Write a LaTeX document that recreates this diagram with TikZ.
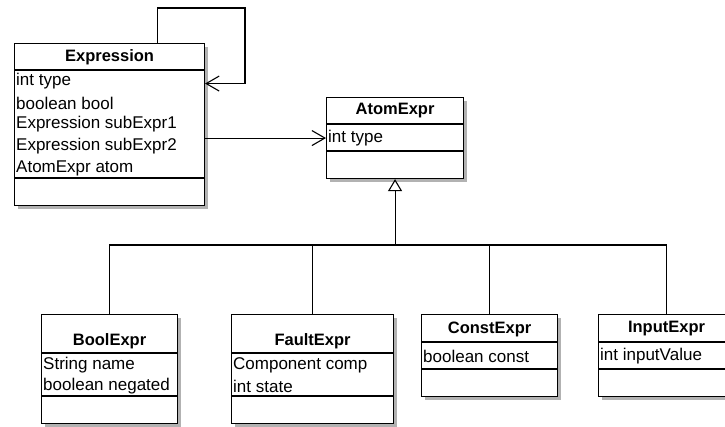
\documentclass[tikz,border=0pt]{standalone}
\usepackage{fontspec}
\setmainfont{Liberation Sans}
\usetikzlibrary{arrows.meta,positioning,shadows}
\tikzset{
  cls/.style={rectangle, draw, line width=1.1pt, fill=white, anchor=north west, inner sep=0pt,
    drop shadow={shadow xshift=3.5pt, shadow yshift=-3.5pt, fill=black!30, opacity=1}},
  ctitle/.style={font=\fontsize{16.5}{20}\selectfont\bfseries, inner sep=0pt},
  cattr/.style={font=\fontsize{17}{20}\selectfont, anchor=west, inner sep=1pt},
  sep/.style={line width=1.1pt},
  link/.style={line width=1.1pt},
  assoc/.style={line width=1.1pt, -{Straight Barb[length=13pt,width=15pt]}},
  inh/.style={line width=1.1pt, -{Triangle[open,fill=white,length=12pt,width=14pt]}},
}

\begin{document}
\begin{tikzpicture}[x=1pt, y=-1pt]
  \useasboundingbox (0,0) rectangle (725,426);

  % class boxes
  \node[cls, minimum width=190pt, minimum height=162pt] (expr) at (14,43) {};
  \node[cls, minimum width=137pt, minimum height=81pt] (atom) at (326,97) {};
  \node[cls, minimum width=136pt, minimum height=109pt] (bool) at (41,314) {};
  \node[cls, minimum width=162pt, minimum height=109pt] (fault) at (231,314) {};
  \node[cls, minimum width=136pt, minimum height=82pt] (const) at (421,314) {};
  \node[cls, minimum width=136pt, minimum height=82pt] (input) at (598,314) {};

  % compartments
  \draw[sep] (expr.west |- 0,70) -- (expr.east |- 0,70);
  \draw[sep] (expr.west |- 0,178) -- (expr.east |- 0,178);
  \draw[sep] (atom.west |- 0,124) -- (atom.east |- 0,124);
  \draw[sep] (atom.west |- 0,151) -- (atom.east |- 0,151);
  \draw[sep] (bool.west |- 0,353) -- (bool.east |- 0,353);
  \draw[sep] (bool.west |- 0,396) -- (bool.east |- 0,396);
  \draw[sep] (fault.west |- 0,353) -- (fault.east |- 0,353);
  \draw[sep] (fault.west |- 0,396) -- (fault.east |- 0,396);
  \draw[sep] (const.west |- 0,342) -- (const.east |- 0,342);
  \draw[sep] (const.west |- 0,369) -- (const.east |- 0,369);
  \draw[sep] (input.west |- 0,342) -- (input.east |- 0,342);
  \draw[sep] (input.west |- 0,369) -- (input.east |- 0,369);

  % texts
  \node[ctitle] (exprT) at (expr.north |- 0,57) {Expression};
  \node[cattr] (exprA1) at (15,81) {int type};
  \node[cattr] (exprA2) at (15,103) {boolean bool};
  \node[cattr] (exprA3) at (15,124) {Expression subExpr1};
  \node[cattr] (exprA4) at (15,146) {Expression subExpr2};
  \node[cattr] (exprA5) at (15,168) {AtomExpr atom};

  \node[ctitle] (atomT) at (atom.north |- 0,111) {AtomExpr};
  \node[cattr] (atomA1) at (327,138) {int type};

  \node[ctitle] (boolT) at (bool.north |- 0,341) {BoolExpr};
  \node[cattr] (boolA1) at (42,365) {String name};
  \node[cattr] (boolA2) at (42,386) {boolean negated};

  \node[ctitle] (faultT) at (fault.north |- 0,341) {FaultExpr};
  \node[cattr] (faultA1) at (232,365) {Component comp};
  \node[cattr] (faultA2) at (232,386) {int state};

  \node[ctitle] (constT) at (const.north |- 0,329) {ConstExpr};
  \node[cattr] (constA1) at (422,356) {boolean const};

  \node[ctitle] (inputT) at (input.north |- 0,329) {InputExpr};
  \node[cattr] (inputA1) at (599,356) {int inputValue};

  % connectors
  \coordinate (loop) at (245,8);
  \coordinate (bus) at (atom.south |- 0,245);
  \draw[assoc] ([xshift=48pt]expr.north) |- (loop) |- ([yshift=41pt]expr.east);
  \draw[assoc] (expr.east |- atom.west) -- (atom.west);
  \draw[inh] (bus) -- (atom.south);
  \draw[link] (bool.north) |- (bus) -| (input.north);
  \draw[link] (fault.north) -- (fault.north |- bus);
  \draw[link] (const.north) -- (const.north |- bus);
\end{tikzpicture}
\end{document}
